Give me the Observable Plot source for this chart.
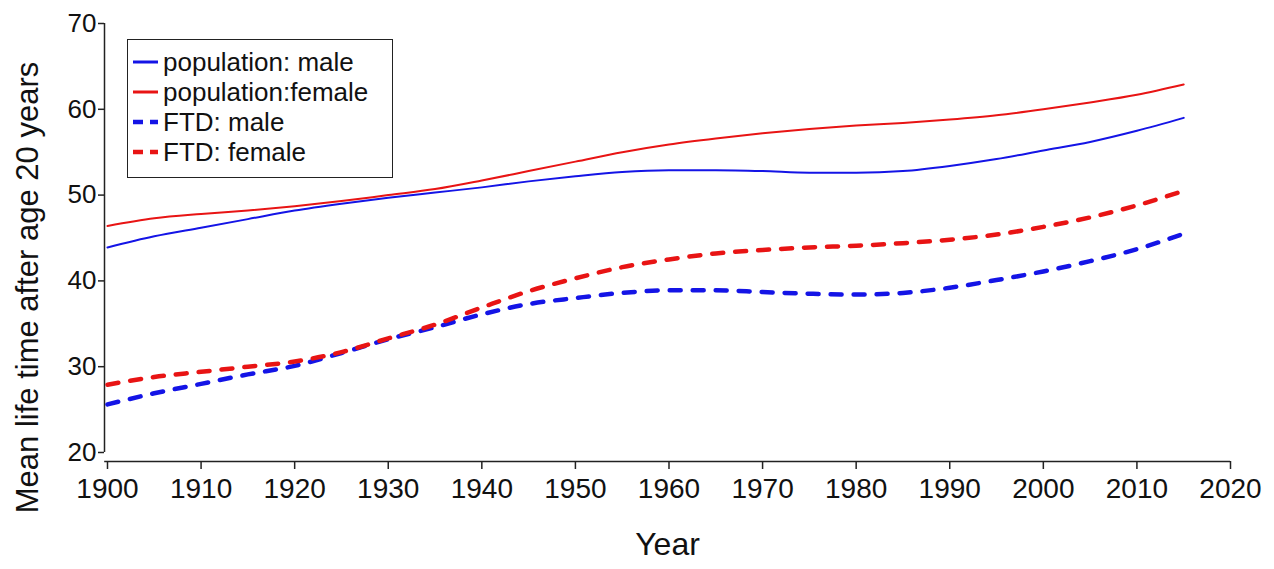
<!DOCTYPE html>
<html>
<head>
<meta charset="utf-8">
<script src="https://cdn.jsdelivr.net/npm/d3@7"></script>
<script src="https://cdn.jsdelivr.net/npm/@observablehq/plot@0.6"></script>
<style>
  html, body { margin: 0; padding: 0; background: #fff; }
  #wrap { position: relative; width: 1274px; height: 569px; font-family: "Liberation Sans", Arial, sans-serif; }
  #legend { position: absolute; left: 127px; top: 39px; width: 266px; height: 139px; border: 1.5px solid #222; background: #fff; box-sizing: border-box; }
  .row { position: absolute; left: 4px; height: 30px; display: flex; align-items: center; }
  .row span { font-size: 26px; color: #111; margin-left: 5px; white-space: nowrap; }
</style>
</head>
<body>
<div id="wrap"></div>
<script>
const years = [1900,1905,1910,1915,1920,1925,1930,1935,1940,1945,1950,1955,1960,1965,1970,1975,1980,1985,1990,1995,2000,2005,2010,2015];
const popMale   = [43.9,45.2,46.2,47.2,48.2,49.0,49.7,50.3,50.9,51.6,52.2,52.7,52.9,52.9,52.8,52.6,52.6,52.8,53.4,54.2,55.2,56.2,57.5,59.0];
const popFemale = [46.4,47.3,47.8,48.2,48.7,49.3,50.0,50.7,51.7,52.8,53.9,55.0,55.9,56.6,57.2,57.7,58.1,58.4,58.8,59.3,60.0,60.8,61.7,62.9];
const ftdMale   = [25.6,26.9,28.0,29.1,30.1,31.6,33.2,34.6,36.1,37.3,38.0,38.6,38.9,38.9,38.7,38.5,38.4,38.6,39.2,40.1,41.1,42.3,43.7,45.5];
const ftdFemale = [27.9,28.8,29.4,30.0,30.6,31.7,33.3,34.9,36.9,38.8,40.3,41.6,42.5,43.2,43.6,43.9,44.1,44.4,44.8,45.4,46.3,47.4,48.8,50.5];
const xTicks = [1900,1910,1920,1930,1940,1950,1960,1970,1980,1990,2000,2010,2020];
const yTicks = [20,30,40,50,60,70];
const seriesNames = ["population: male","population:female","FTD: male","FTD: female"];

const BLUE = "#1414e6", RED = "#e81414";
const styles = [
  {color: BLUE, width: 2, dash: null},
  {color: RED, width: 2, dash: null},
  {color: BLUE, width: 4.5, dash: "11,12"},
  {color: RED, width: 4.5, dash: "11,12"}
];
const allSeries = [popMale, popFemale, ftdMale, ftdFemale];
const rows = allSeries.map((vals, i) => years.map((yr, j) => ({year: yr, value: vals[j], series: seriesNames[i]})));

const font = "Liberation Sans, Arial, sans-serif";
const chart = Plot.plot({
  width: 1274,
  height: 569,
  marginLeft: 104,
  marginRight: 44,
  marginTop: 23,
  marginBottom: 108,
  style: {fontFamily: font, background: "#fff", color: "#111"},
  x: {domain: [1899.68, 2020]},
  y: {domain: [18.95, 70]},
  marks: [
    Plot.ruleX([1899.68], {y1: 20, y2: 70, stroke: "#222", strokeWidth: 1.5}),
    Plot.ruleY([18.95], {x1: 1899.7, x2: 2020, stroke: "#222", strokeWidth: 1.5}),
    Plot.axisX({ticks: xTicks, tickFormat: d => String(d), tickSize: 8, tickPadding: 9, fontSize: 28, label: null, stroke: "#222", strokeWidth: 1.5}),
    Plot.axisY({ticks: yTicks, tickSize: 6, tickPadding: 2, fontSize: 26, label: null, stroke: "#222", strokeWidth: 1.5}),
    ...rows.map((d, i) => Plot.line(d, {
      x: "year", y: "value", curve: "monotone-x",
      stroke: styles[i].color, strokeWidth: styles[i].width,
      strokeDasharray: styles[i].dash
    })),
    Plot.text(["Year"], {frameAnchor: "bottom", dy: 93, fontSize: 32, fill: "#111"}),
    Plot.text(["Mean life time after age 20 years"], {frameAnchor: "left", textAnchor: "middle", dx: -76, dy: 45, rotate: -90, fontSize: 31, fill: "#111"})
  ]
});
const wrap = document.getElementById("wrap");
wrap.appendChild(chart);

const legend = document.createElement("div");
legend.id = "legend";
seriesNames.forEach((name, i) => {
  const r = document.createElement("div");
  r.className = "row";
  r.style.top = (7 + i * 30) + "px";
  const s = styles[i];
  r.innerHTML = `<svg width="26" height="10"><line x1="1" y1="5" x2="26" y2="5" stroke="${s.color}" stroke-width="${s.dash ? 4.5 : 3}" ${s.dash ? 'stroke-dasharray="10,7"' : ''}/></svg><span>${name}</span>`;
  legend.appendChild(r);
});
wrap.appendChild(legend);
</script>
</body>
</html>
